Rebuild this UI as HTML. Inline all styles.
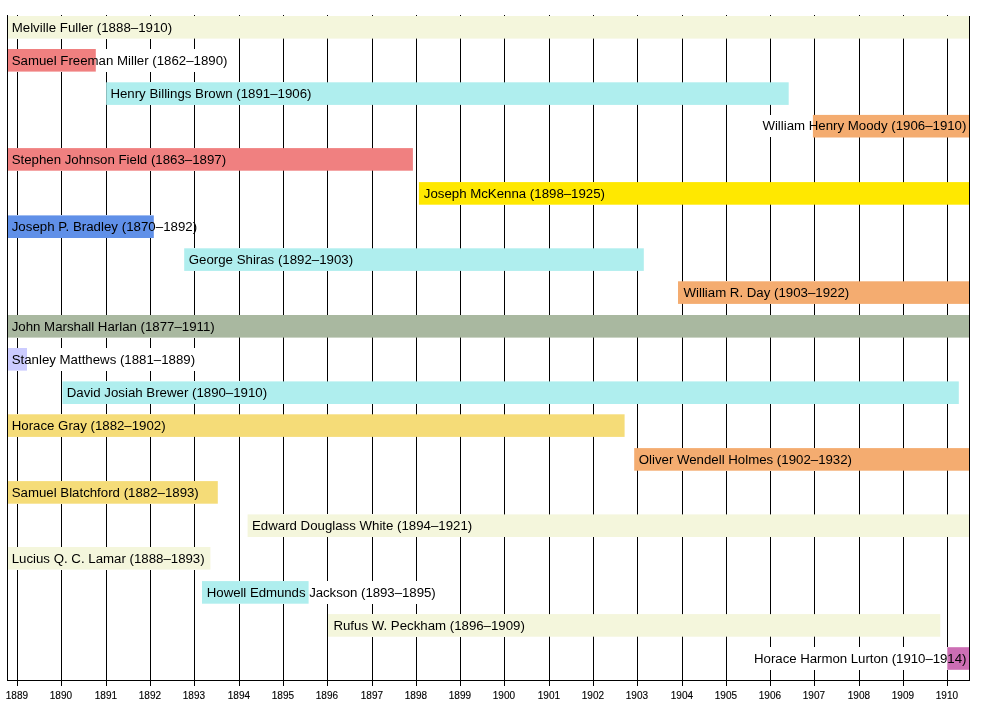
<!DOCTYPE html>
<html lang="en"><head><meta charset="utf-8"><title>Fuller Court timeline</title>
<style>
html,body{margin:0;padding:0;background:#fff;}
body{width:1000px;height:710px;position:relative;overflow:hidden;font-family:"Liberation Sans",sans-serif;color:#000;}
.g{position:absolute;top:15px;width:1px;height:670.5px;background:#000;}
.ax{position:absolute;background:#000;}
svg.bars{position:absolute;left:0;top:0;z-index:2;}
.t{position:absolute;height:22.6px;line-height:22.6px;font-size:13.25px;white-space:nowrap;background:#fff;padding-right:2px;}
.t.r{padding:0 0 0 2px;}
.t span{position:relative;z-index:3;top:0.6px;}
.y{position:absolute;top:689.5px;width:40px;margin-left:-20px;text-align:center;font-size:10px;line-height:12px;-webkit-text-stroke:0.12px #000;}
</style></head><body>

<div class="g" style="left:17px"></div>
<div class="g" style="left:61px"></div>
<div class="g" style="left:106px"></div>
<div class="g" style="left:150px"></div>
<div class="g" style="left:194px"></div>
<div class="g" style="left:239px"></div>
<div class="g" style="left:283px"></div>
<div class="g" style="left:327px"></div>
<div class="g" style="left:372px"></div>
<div class="g" style="left:416px"></div>
<div class="g" style="left:460px"></div>
<div class="g" style="left:504px"></div>
<div class="g" style="left:549px"></div>
<div class="g" style="left:593px"></div>
<div class="g" style="left:637px"></div>
<div class="g" style="left:682px"></div>
<div class="g" style="left:726px"></div>
<div class="g" style="left:770px"></div>
<div class="g" style="left:814px"></div>
<div class="g" style="left:859px"></div>
<div class="g" style="left:903px"></div>
<div class="g" style="left:947px"></div>
<div class="ax" style="left:7px;top:15px;width:1px;height:666px"></div>
<div class="ax" style="left:969px;top:16px;width:1px;height:665px;z-index:4"></div>
<div class="ax" style="left:7px;top:680px;width:963px;height:1px"></div>
<div class="t" style="left:11.7px;top:16.0px;letter-spacing:0.025px"><span>Melville Fuller (1888–1910)</span></div>
<div class="t" style="left:11.7px;top:49.0px"><span>Samuel Freeman Miller (1862–1890)</span></div>
<div class="t" style="left:110.4px;top:82.3px"><span>Henry Billings Brown (1891–1906)</span></div>
<div class="t r" style="right:33.6px;top:114.9px"><span>William Henry Moody (1906–1910)</span></div>
<div class="t" style="left:11.7px;top:148.1px"><span>Stephen Johnson Field (1863–1897)</span></div>
<div class="t" style="left:423.8px;top:182.1px"><span>Joseph McKenna (1898–1925)</span></div>
<div class="t" style="left:11.7px;top:215.4px;width:182px;padding-right:0;letter-spacing:0.03px"><span>Joseph P. Bradley (1870–1892)</span></div>
<div class="t" style="left:188.8px;top:248.3px"><span>George Shiras (1892–1903)</span></div>
<div class="t" style="left:683.5px;top:281.3px"><span>William R. Day (1903–1922)</span></div>
<div class="t" style="left:11.7px;top:315.0px"><span>John Marshall Harlan (1877–1911)</span></div>
<div class="t" style="left:11.7px;top:348.0px"><span>Stanley Matthews (1881–1889)</span></div>
<div class="t" style="left:66.8px;top:381.4px"><span>David Josiah Brewer (1890–1910)</span></div>
<div class="t" style="left:11.7px;top:414.3px"><span>Horace Gray (1882–1902)</span></div>
<div class="t" style="left:638.7px;top:448.1px"><span>Oliver Wendell Holmes (1902–1932)</span></div>
<div class="t" style="left:11.7px;top:481.1px"><span>Samuel Blatchford (1882–1893)</span></div>
<div class="t" style="left:252.0px;top:514.4px"><span>Edward Douglass White (1894–1921)</span></div>
<div class="t" style="left:11.7px;top:547.0px"><span>Lucius Q. C. Lamar (1888–1893)</span></div>
<div class="t" style="left:206.8px;top:581.1px;letter-spacing:-0.05px"><span>Howell Edmunds Jackson (1893–1895)</span></div>
<div class="t" style="left:333.4px;top:614.1px"><span>Rufus W. Peckham (1896–1909)</span></div>
<div class="t r" style="right:33.6px;top:647.2px;letter-spacing:-0.04px"><span>Horace Harmon Lurton (1910–1914)</span></div>
<svg class="bars" width="1000" height="710" viewBox="0 0 1000 710">
<rect x="8.0" y="16.0" width="961.0" height="22.6" fill="#f4f6dc"/>
<rect x="8.0" y="49.0" width="87.8" height="22.6" fill="#f08080"/>
<rect x="106.2" y="82.3" width="682.5" height="22.6" fill="#afeeee"/>
<rect x="812.9" y="114.9" width="156.1" height="22.6" fill="#f4ac70"/>
<rect x="8.0" y="148.1" width="404.9" height="22.6" fill="#f08080"/>
<rect x="418.9" y="182.1" width="550.1" height="22.6" fill="#ffe800"/>
<rect x="8.0" y="215.4" width="145.8" height="22.6" fill="#6090e8"/>
<rect x="184.2" y="248.3" width="459.6" height="22.6" fill="#afeeee"/>
<rect x="678.0" y="281.3" width="291.0" height="22.6" fill="#f4ac70"/>
<rect x="8.0" y="315.0" width="961.0" height="22.6" fill="#a9b8a0"/>
<rect x="8.0" y="348.0" width="19.0" height="22.6" fill="#ccccff"/>
<rect x="62.4" y="381.4" width="896.4" height="22.6" fill="#afeeee"/>
<rect x="8.0" y="414.3" width="616.6" height="22.6" fill="#f5dc78"/>
<rect x="634.2" y="448.1" width="334.8" height="22.6" fill="#f4ac70"/>
<rect x="8.0" y="481.1" width="209.8" height="22.6" fill="#f5dc78"/>
<rect x="247.6" y="514.4" width="721.4" height="22.6" fill="#f4f6dc"/>
<rect x="8.0" y="547.0" width="202.4" height="22.6" fill="#f4f6dc"/>
<rect x="202.0" y="581.1" width="106.6" height="22.6" fill="#afeeee"/>
<rect x="328.0" y="614.1" width="612.3" height="22.6" fill="#f4f6dc"/>
<rect x="947.3" y="647.2" width="21.7" height="22.6" fill="#cc6eb4"/>
</svg>
<div class="y" style="left:16.90px">1889</div>
<div class="y" style="left:60.90px">1890</div>
<div class="y" style="left:105.90px">1891</div>
<div class="y" style="left:149.90px">1892</div>
<div class="y" style="left:193.90px">1893</div>
<div class="y" style="left:238.90px">1894</div>
<div class="y" style="left:282.90px">1895</div>
<div class="y" style="left:326.90px">1896</div>
<div class="y" style="left:371.90px">1897</div>
<div class="y" style="left:415.90px">1898</div>
<div class="y" style="left:459.90px">1899</div>
<div class="y" style="left:503.90px">1900</div>
<div class="y" style="left:548.90px">1901</div>
<div class="y" style="left:592.90px">1902</div>
<div class="y" style="left:636.90px">1903</div>
<div class="y" style="left:681.90px">1904</div>
<div class="y" style="left:725.90px">1905</div>
<div class="y" style="left:769.90px">1906</div>
<div class="y" style="left:813.90px">1907</div>
<div class="y" style="left:858.90px">1908</div>
<div class="y" style="left:902.90px">1909</div>
<div class="y" style="left:946.90px">1910</div>
</body></html>
